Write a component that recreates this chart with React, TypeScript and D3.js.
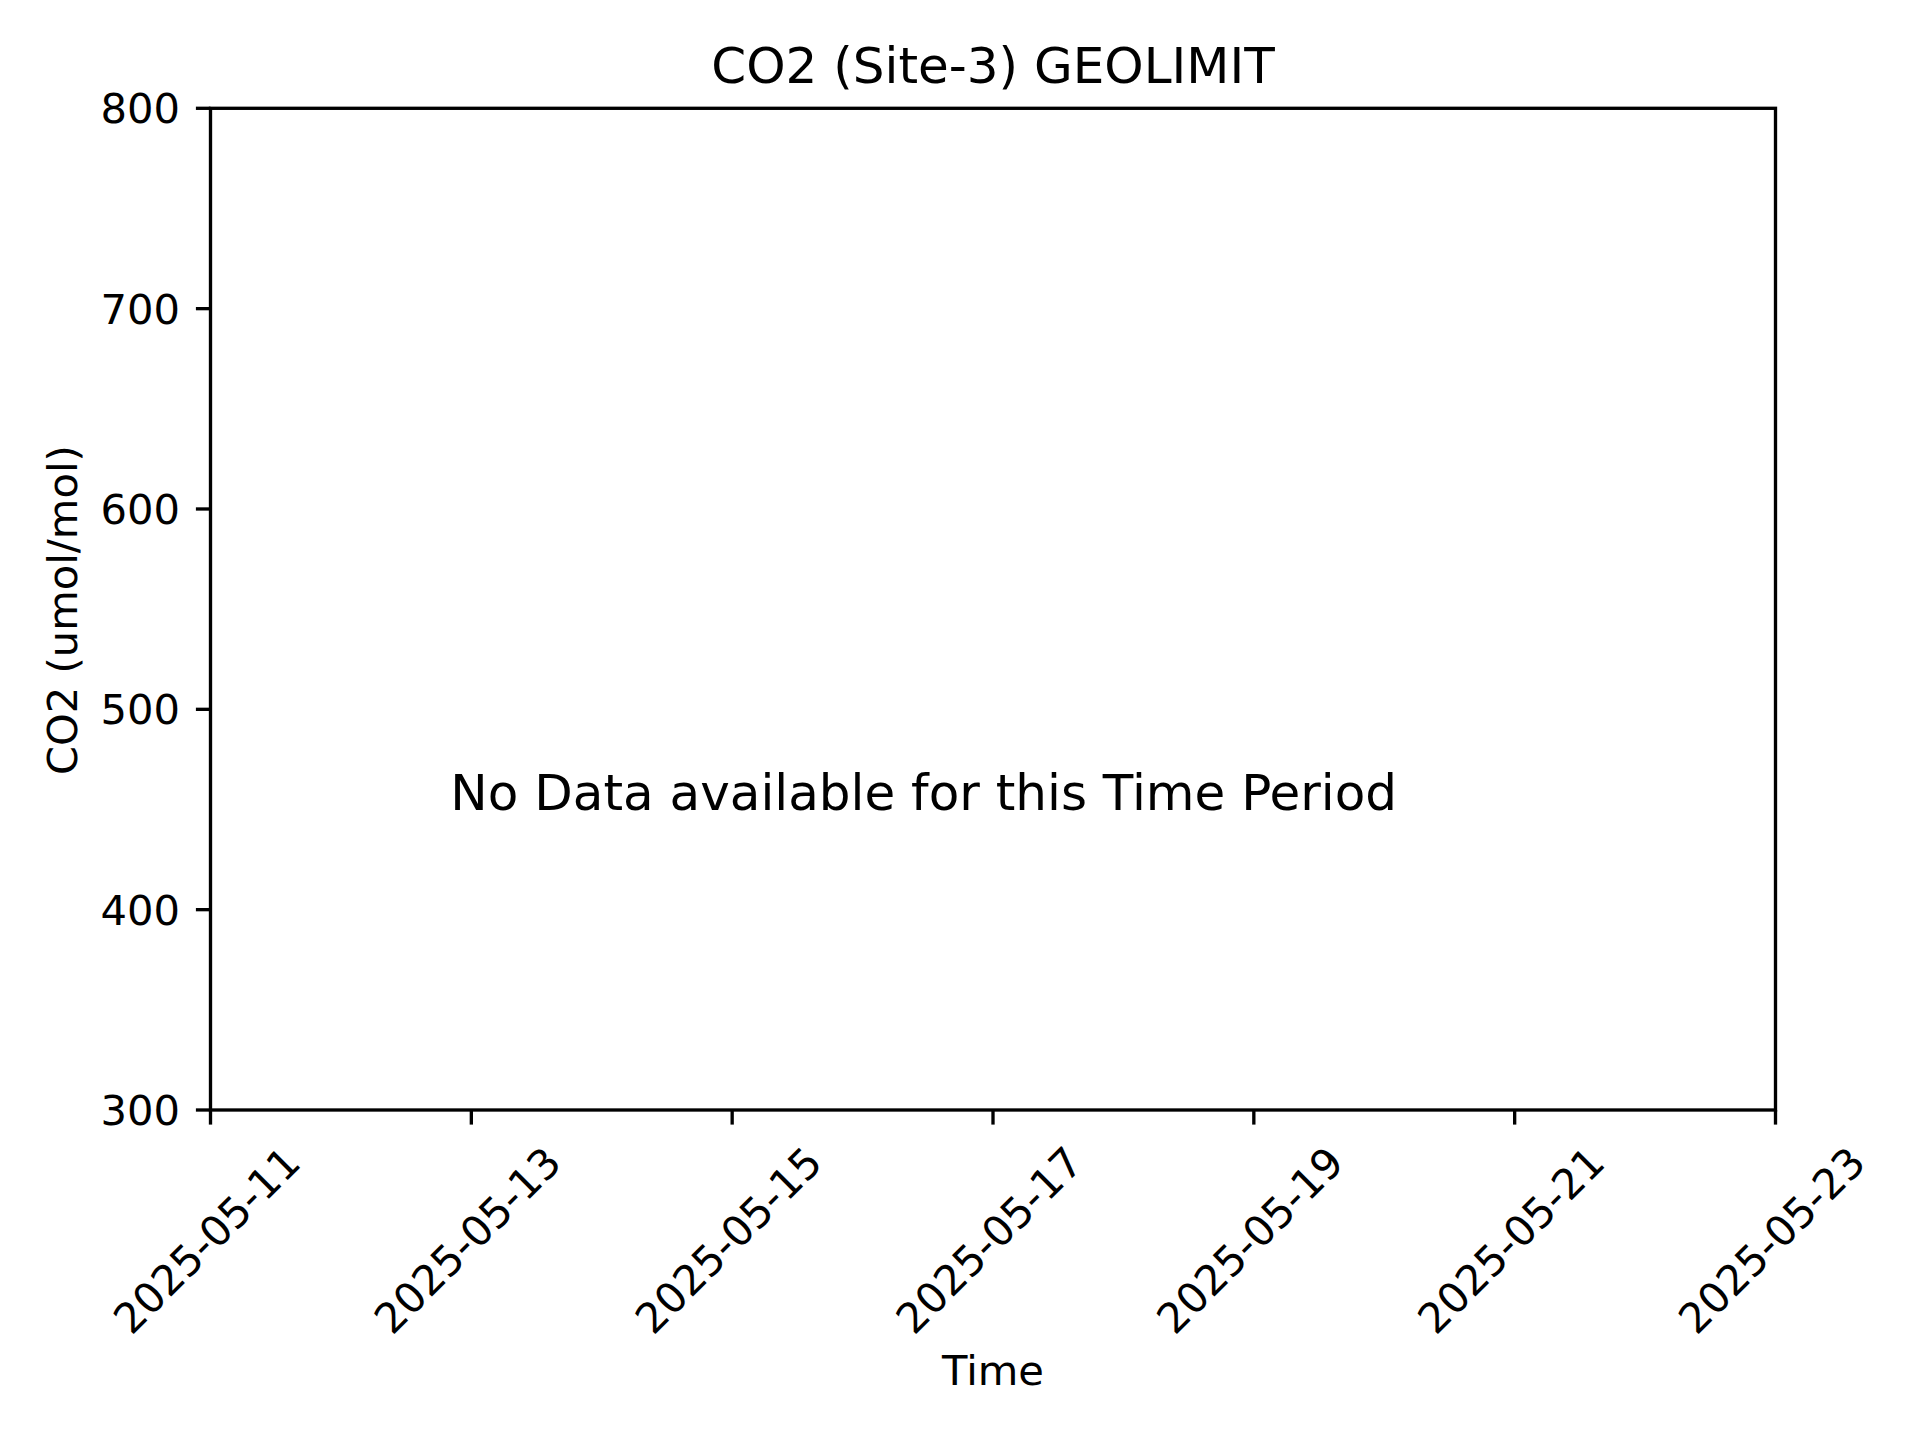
import React from "react";
import * as d3 from "d3";

// ---- data ----
const title = "CO2 (Site-3) GEOLIMIT";
const yLabel = "CO2 (umol/mol)";
const xLabel = "Time";
const message = "No Data available for this Time Period";
const xDomain = ["2025-05-11", "2025-05-23"];
const xTickDates = [
  "2025-05-11",
  "2025-05-13",
  "2025-05-15",
  "2025-05-17",
  "2025-05-19",
  "2025-05-21",
  "2025-05-23",
];
const yDomain = [300, 800];
const yTickValues = [300, 400, 500, 600, 700, 800];
// message anchor (center of text) in data coordinates
const messageAt = { date: "2025-05-16T11:15:00", value: 449.5 };

const W = 1920;
const H = 1440;
const M = { left: 210.5, right: 1775.5, top: 108.3, bottom: 1110 };
const FONT = "'DejaVu Sans', sans-serif";
const LW = 3.33;
const TICK = 14.6;

export default function App() {
  const parse = d3.utcParse("%Y-%m-%d");
  const parseT = d3.utcParse("%Y-%m-%dT%H:%M:%S");
  const x = d3
    .scaleUtc()
    .domain(xDomain.map((d) => parse(d) as Date))
    .range([M.left, M.right]);
  const y = d3.scaleLinear().domain(yDomain).range([M.bottom, M.top]);
  const fmt = d3.utcFormat("%Y-%m-%d");
  const xTicks = xTickDates.map((d) => parse(d) as Date);
  const cx = (M.left + M.right) / 2;
  const cy = (M.top + M.bottom) / 2;

  return (
    <svg
      width={W}
      height={H}
      viewBox={`0 0 ${W} ${H}`}
      style={{ position: "absolute", left: 0, top: 0, background: "#fff" }}
      fontFamily={FONT}
    >
      <rect x={0} y={0} width={W} height={H} fill="#fff" />
      {/* title */}
      <text x={cx} y={83.3} textAnchor="middle" fontSize={50} fill="#000">
        {title}
      </text>

      {/* y ticks */}
      {yTickValues.map((v) => (
        <g key={v}>
          <line
            x1={M.left - TICK}
            x2={M.left}
            y1={y(v)}
            y2={y(v)}
            stroke="#000"
            strokeWidth={LW}
          />
          <text
            x={M.left - TICK - 16}
            y={y(v)}
            dy="0.36em"
            textAnchor="end"
            fontSize={41.67}
            fill="#000"
          >
            {v}
          </text>
        </g>
      ))}

      {/* x ticks */}
      {xTicks.map((d) => {
        const tx = x(d);
        return (
          <g key={d.toISOString()}>
            <line
              x1={tx}
              x2={tx}
              y1={M.bottom}
              y2={M.bottom + TICK}
              stroke="#000"
              strokeWidth={LW}
            />
            <text
              transform={`translate(${tx - 4},${1240}) rotate(-45)`}
              dy="0.36em"
              textAnchor="middle"
              fontSize={41.67}
              fill="#000"
            >
              {fmt(d)}
            </text>
          </g>
        );
      })}

      {/* axis frame */}
      <rect
        x={M.left}
        y={M.top}
        width={M.right - M.left}
        height={M.bottom - M.top}
        fill="none"
        stroke="#000"
        strokeWidth={LW}
        strokeLinejoin="miter"
      />

      {/* message */}
      <text
        x={x(parseT(messageAt.date) as Date)}
        y={y(messageAt.value)}
        textAnchor="middle"
        fontSize={50}
        fill="#000"
      >
        {message}
      </text>

      {/* axis labels */}
      <text x={cx} y={1385} textAnchor="middle" fontSize={41.67} fill="#000">
        {xLabel}
      </text>
      <text
        transform={`translate(${77},${cy + 1}) rotate(-90)`}
        textAnchor="middle"
        fontSize={41.67}
        fill="#000"
      >
        {yLabel}
      </text>
    </svg>
  );
}
